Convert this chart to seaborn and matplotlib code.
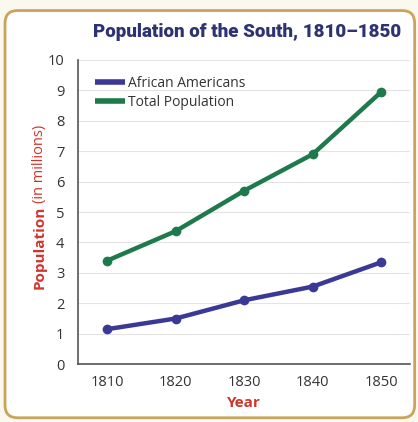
import pandas as pd
import matplotlib.pyplot as plt
import seaborn as sns
from matplotlib.patches import FancyBboxPatch

years = [1810, 1820, 1830, 1840, 1850]
african_americans = [1.15, 1.5, 2.1, 2.55, 3.35]
total_population = [3.4, 4.37, 5.7, 6.9, 8.95]
series_names = ['African Americans', 'Total Population']
y_ticks = list(range(0, 11))

df = pd.DataFrame({
    'Year': years * 2,
    'Population': african_americans + total_population,
    'Series': [series_names[0]] * len(years) + [series_names[1]] * len(years),
})

sns.set_theme(style='white')
plt.rcParams['font.family'] = ['Open Sans', 'DejaVu Sans']

fig = plt.figure(figsize=(4.18, 4.22), dpi=100)
fig.patch.set_facecolor('#fbf8ee')
frame = FancyBboxPatch((0.012, 0.01), 0.98, 0.965, boxstyle='round,pad=0,rounding_size=0.03',
                       transform=fig.transFigure, facecolor='white', edgecolor='#c9a45a',
                       linewidth=2, zorder=-10)
fig.patches.append(frame)

ax = fig.add_axes([0.187, 0.137, 0.794, 0.721])
ax.set_facecolor('none')

palette = {'African Americans': '#3a3996', 'Total Population': '#1e7a4c'}
sns.lineplot(data=df, x='Year', y='Population', hue='Series', palette=palette,
             marker='o', markersize=7, linewidth=3.2, markeredgewidth=0, ax=ax)

ax.set_xlim(1805.8, 1854.2)
ax.set_ylim(0, 10)
ax.set_xticks(years)
ax.set_yticks(y_ticks)
ax.tick_params(axis='both', labelsize=10.5, colors='#333333', length=0)
ax.tick_params(axis='x', pad=8)
ax.tick_params(axis='y', pad=10)
ax.yaxis.grid(True, color='#e4e4e4', linewidth=0.8)
for s in ['top', 'right']:
    ax.spines[s].set_visible(False)
for s in ['left', 'bottom']:
    ax.spines[s].set_color('#555555')
    ax.spines[s].set_linewidth(1.2)

ax.set_xlabel('Year', color='#d0352a', fontweight='bold', fontsize=11, labelpad=4)
ax.set_ylabel('')
pop = fig.text(0.095, 0.415, 'Population', rotation=90, color='#d0352a', fontweight='bold',
               fontsize=11, ha='center', va='center')
fig.canvas.draw()
bb = pop.get_window_extent().transformed(fig.transFigure.inverted())
fig.text(0.095, bb.y1 + 0.004, '(in millions)', rotation=90, color='#d0352a',
         fontsize=10.5, ha='center', va='bottom')

fig.text(0.59, 0.925, 'Population of the South, 1810\u20131850', color='#2d3372',
         fontweight='heavy', fontsize=13.5, family=['Roboto', 'DejaVu Sans'],
         ha='center', va='center')

leg = ax.legend(loc='upper left', frameon=False, fontsize=10, handlelength=2.2,
                handletextpad=0.2, labelspacing=0.3, borderaxespad=0.3,
                bbox_to_anchor=(0.02, 0.98))
for line in leg.get_lines():
    line.set_marker('')
    line.set_linewidth(4)
    line.set_solid_capstyle('butt')
for t in leg.get_texts():
    t.set_color('#333333')

fig.savefig('out.png', dpi=100)
